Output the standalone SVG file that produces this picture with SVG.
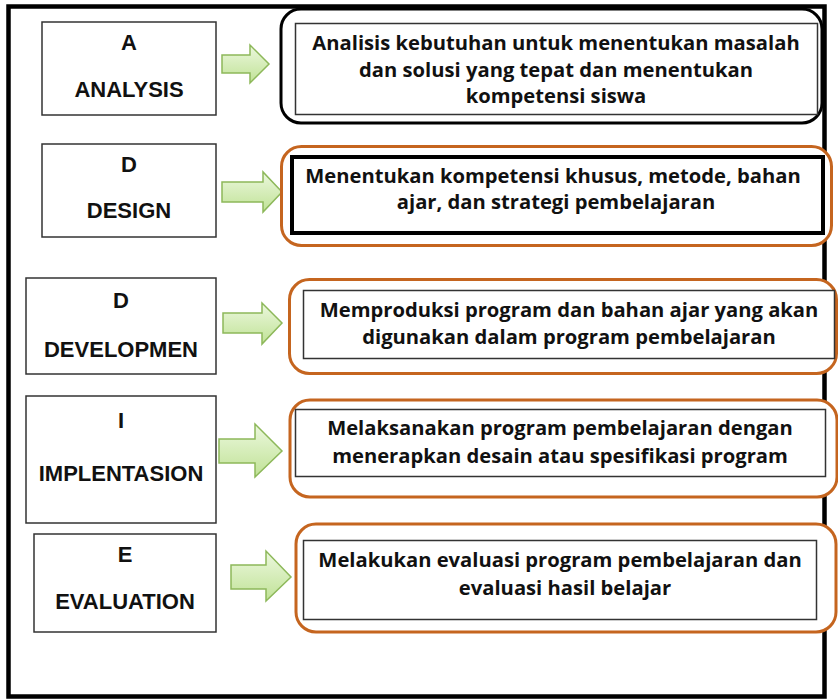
<svg xmlns="http://www.w3.org/2000/svg" width="838" height="699" viewBox="0 0 838 699">
<defs>
<linearGradient id="gArrow" x1="0" y1="0" x2="0" y2="1">
<stop offset="0" stop-color="#ecf8de"/>
<stop offset="1" stop-color="#c0e296"/>
</linearGradient>
<style>
.frame{fill:none;stroke:#000;stroke-width:4.5}
.lbox{fill:#fff;stroke:#333;stroke-width:1.5}
.lbl{font-family:"Liberation Sans",Arial,sans-serif;font-weight:700;font-size:22px;fill:#111;text-anchor:middle}
.txt{font-family:"Open Sans","Liberation Sans",sans-serif;font-weight:700;font-size:20.2px;fill:#111;text-anchor:middle}
.outerK{fill:#fff;stroke:#000;stroke-width:3}
.outerO{fill:#fff;stroke:#c5651f;stroke-width:3}
.inner{fill:#fff;stroke:#333;stroke-width:1.5}
.innerK{fill:#fff;stroke:#000;stroke-width:4}
.arrow{fill:url(#gArrow);stroke:#8db85a;stroke-width:1.5;stroke-linejoin:miter}
</style>
</defs>
<rect width="838" height="699" fill="#fff"/>
<rect class="frame" x="8.5" y="6.5" width="816" height="690"/>

<g id="left-A"><rect class="lbox" x="42" y="22" width="174" height="93"/><text class="lbl" x="129" y="50">A</text><text class="lbl" x="129" y="97">ANALYSIS</text></g>
<g id="left-D1"><rect class="lbox" x="42" y="144" width="174" height="93"/><text class="lbl" x="129" y="172">D</text><text class="lbl" x="129" y="218">DESIGN</text></g>
<g id="left-D2"><rect class="lbox" x="26" y="278" width="190" height="96"/><text class="lbl" x="121" y="308">D</text><text class="lbl" x="121" y="357">DEVELOPMEN</text></g>
<g id="left-I"><rect class="lbox" x="26" y="396" width="190" height="127"/><text class="lbl" x="121" y="428">I</text><text class="lbl" x="121" y="481">IMPLENTASION</text></g>
<g id="left-E"><rect class="lbox" x="34" y="534" width="182" height="98"/><text class="lbl" x="125" y="562">E</text><text class="lbl" x="125" y="609">EVALUATION</text></g>

<g id="connectors">
<path class="arrow" d="M222,55 L250,55 L250,45 L269,64 L250,83 L250,73 L222,73 Z"/>
<path class="arrow" d="M222,182 L263,182 L263,172 L282,192 L263,212 L263,202 L222,202 Z"/>
<path class="arrow" d="M223,313 L262,313 L262,303 L282,323 L262,344 L262,333 L223,333 Z"/>
<path class="arrow" d="M219,439 L255,439 L255,424 L282,451 L255,477 L255,463 L219,463 Z"/>
<path class="arrow" d="M231,565 L266,565 L266,551 L291,577 L266,601 L266,589 L231,589 Z"/>
</g>

<g id="right-A">
<rect class="outerK" x="281" y="9" width="541" height="114" rx="20"/>
<rect class="inner" x="295.5" y="23.5" width="522" height="91"/>
<text class="txt" x="556" y="50">Analisis kebutuhan untuk menentukan masalah</text>
<text class="txt" x="556" y="77">dan solusi yang tepat dan menentukan</text>
<text class="txt" x="556" y="103">kompetensi siswa</text>
</g>
<g id="right-D1">
<rect class="outerO" x="281.5" y="146.5" width="550" height="99" rx="20"/>
<rect class="innerK" x="292" y="157" width="531" height="76"/>
<text class="txt" x="553" y="183">Menentukan kompetensi khusus, metode, bahan</text>
<text class="txt" x="556" y="209">ajar, dan strategi pembelajaran</text>
</g>
<g id="right-D2">
<rect class="outerO" x="289.5" y="279.5" width="547" height="94" rx="20"/>
<rect class="inner" x="303.5" y="290.5" width="531" height="68"/>
<text class="txt" x="569" y="317">Memproduksi program dan bahan ajar yang akan</text>
<text class="txt" x="569" y="344">digunakan dalam program pembelajaran</text>
</g>
<g id="right-I">
<rect class="outerO" x="290" y="400" width="547" height="97" rx="20"/>
<rect class="inner" x="295.5" y="409.5" width="530" height="67"/>
<text class="txt" x="560" y="435">Melaksanakan program pembelajaran dengan</text>
<text class="txt" x="560" y="463">menerapkan desain atau spesifikasi program</text>
</g>
<g id="right-E">
<rect class="outerO" x="296" y="524" width="540" height="108" rx="20"/>
<rect class="inner" x="303.5" y="540.5" width="513" height="79"/>
<text class="txt" x="560" y="567">Melakukan evaluasi program pembelajaran dan</text>
<text class="txt" x="565" y="595">evaluasi hasil belajar</text>
</g>
</svg>
